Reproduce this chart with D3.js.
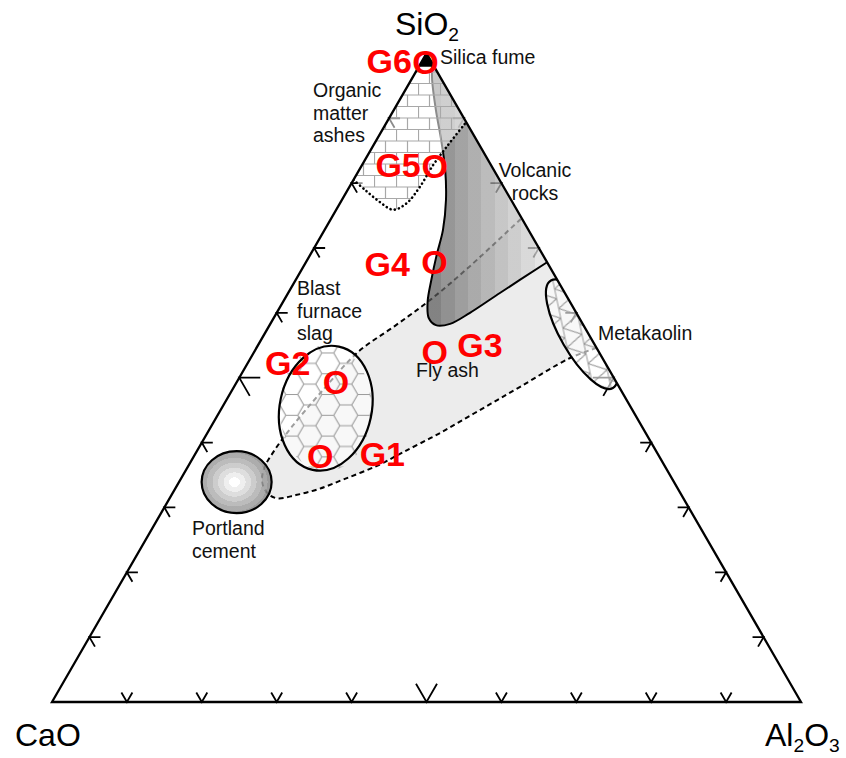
<!DOCTYPE html>
<html>
<head>
<meta charset="utf-8">
<script src="https://cdn.jsdelivr.net/npm/d3@7"></script>
<style>
  body { margin: 0; background: #fff; }
  svg { display: block; }
</style>
</head>
<body>
<svg id="chart" width="846" height="758"></svg>
<script>
// ---- data (wt.% of SiO2, CaO, Al2O3) ----
const tickValues = [10, 20, 30, 40, 50, 60, 70, 80, 90];

const sampleNames = ["G1", "G2", "G3", "G4", "G5", "G6"];
const sampleSiO2  = [38.0, 49.4, 54.0, 67.9, 82.6, 98.7];
const sampleCaO   = [45.2, 37.4, 21.9, 15.0,  7.6,  0.8];
const sampleAl2O3 = [16.8, 13.2, 24.1, 17.1,  9.8,  0.5];

// fly ash field outline: lower boundary (right to left), rounded end, upper boundary
const flyAshOutline = [
  [54.6, 0.0, 45.4], [53.0, 4.4, 42.6], [48.6, 13.2, 38.2], [45.0, 20.4, 34.6],
  [41.5, 27.4, 31.1], [38.5, 33.9, 27.6], [36.5, 38.2, 25.3], [34.4, 43.7, 21.9],
  [32.8, 48.1, 19.1], [31.9, 51.5, 16.6], [31.4, 54.2, 14.4], [32.1, 55.1, 12.8],
  [33.9, 55.0, 11.1], [36.1, 53.6, 10.3], [38.8, 50.9, 10.3], [42.4, 46.8, 10.8],
  [47.6, 40.4, 12.0], [54.0, 32.1, 13.9], [58.0, 25.2, 16.8], [62.0, 18.5, 19.5],
  [67.2, 10.6, 22.2], [74.6, 0.0, 25.4]
];

// volcanic rocks field: inner boundary from near the apex down and back to the Al2O3 side
const volcanicOutline = [
  [98.5, 0.0, 1.5], [95.9, 1.3, 2.8], [91.3, 3.1, 5.6], [86.7, 4.7, 8.6],
  [82.0, 6.5, 11.5], [77.4, 8.7, 13.9], [72.8, 11.4, 15.8], [68.9, 14.2, 16.9],
  [65.1, 16.8, 18.1], [61.7, 19.0, 19.3], [59.2, 20.1, 20.7], [58.1, 19.7, 22.2],
  [58.3, 17.7, 24.0], [60.0, 14.2, 25.8], [63.1, 8.6, 28.3], [67.8, 0.0, 32.2]
];

// organic matter ashes field: lower (dotted) boundary from the CaO side to the Al2O3 side
const organicOutline = [
  [80.5, 19.5, 0.0], [78.9, 18.7, 2.4], [77.1, 17.7, 5.2], [75.9, 16.5, 7.6],
  [76.9, 14.2, 8.9], [79.4, 11.2, 9.4], [82.8, 7.7, 9.5], [85.7, 4.4, 9.9],
  [89.4, 0.0, 10.6]
];

// centres of the oval fields
const portlandCentre   = [33.9, 58.4, 7.7];
const slagCentre       = [45.3, 40.8, 13.9];
const metakaolinCentre = [56.7, 0.9, 42.4];
const silicaFume       = [98.6, 0.7, 0.7];

// ---- ternary projection ----
const xS = d3.scaleLinear().domain([0, 100]).range([52, 801]);
const yS = d3.scaleLinear().domain([0, 100]).range([702, 53.4]);
const project = ([si, ca, al]) => [xS(al + si / 2), yS(si)];

const svg = d3.select("#chart");
const defs = svg.append("defs");
const FONT = "'Liberation Sans', Arial, Helvetica, sans-serif";

const A = project([0, 100, 0]);   // CaO corner
const B = project([0, 0, 100]);   // Al2O3 corner
const C = project([100, 0, 0]);   // SiO2 corner

defs.append("clipPath").attr("id", "tri")
  .append("path").attr("d", `M${A}L${B}L${C}Z`);

// stepped gradients
function steps(grad, colors) {
  colors.forEach((c, i) => {
    grad.append("stop").attr("offset", i / colors.length).attr("stop-color", c);
    grad.append("stop").attr("offset", (i + 1) / colors.length).attr("stop-color", c);
  });
}
const volcGrad = defs.append("linearGradient").attr("id", "volc")
  .attr("gradientUnits", "userSpaceOnUse")
  .attr("x1", 428).attr("x2", 548).attr("y1", 0).attr("y2", 0);
steps(volcGrad, ["#5a5a5a", "#6e6e6e", "#808080", "#919191", "#a2a2a2",
                 "#b2b2b2", "#c2c2c2", "#d2d2d2", "#e2e2e2"]);

const pcGrad = defs.append("radialGradient").attr("id", "pc")
  .attr("cx", 0.47).attr("cy", 0.5).attr("r", 0.55);
steps(pcGrad, ["#ffffff", "#ececec", "#d8d8d8", "#c4c4c4", "#b0b0b0", "#9e9e9e", "#8c8c8c"]);

// hatching patterns
const hex = defs.append("pattern").attr("id", "hex").attr("patternUnits", "userSpaceOnUse")
  .attr("width", 36).attr("height", 20.78).attr("x", 290).attr("y", 350);
hex.append("path")
  .attr("d", "M12,0L24,0L30,10.39L24,20.78L12,20.78L6,10.39ZM0,10.39L6,10.39M30,10.39L36,10.39")
  .attr("fill", "none").attr("stroke", "#9a9a9a").attr("stroke-width", 1.1);

const brick = defs.append("pattern").attr("id", "brick").attr("patternUnits", "userSpaceOnUse")
  .attr("width", 22).attr("height", 23).attr("x", 396).attr("y", 60);
brick.append("path")
  .attr("d", "M0,0.5H22M0,12H22M0.5,0V12M11.5,12V23")
  .attr("fill", "none").attr("stroke", "#a8a8a8").attr("stroke-width", 1.2);

const mesh = defs.append("pattern").attr("id", "mesh").attr("patternUnits", "userSpaceOnUse")
  .attr("width", 20).attr("height", 17.32).attr("patternTransform", "rotate(18)");
mesh.append("path")
  .attr("d", "M0,0H20M0,17.32H20M0,0L10,17.32L20,0")
  .attr("fill", "none").attr("stroke", "#9a9a9a").attr("stroke-width", 1.1);

// ---- edge ticks (drawn first so the shaded fields veil them) ----
const ticks = svg.append("g").attr("stroke", "#000").attr("stroke-width", 1.8).attr("fill", "none");
const r3 = Math.sqrt(3) / 2;
const armPath = (p, d1, d2, L) =>
  `M${p[0] + d1[0] * L},${p[1] + d1[1] * L}L${p[0]},${p[1]}L${p[0] + d2[0] * L},${p[1] + d2[1] * L}`;
tickValues.forEach(v => {
  const L = v === 50 ? 21 : 11;
  ticks.append("path").attr("d", armPath(project([v, 100 - v, 0]), [1, 0], [0.5, r3], L));
  ticks.append("path").attr("d", armPath(project([v, 0, 100 - v]), [-1, 0], [-0.5, r3], L));
  ticks.append("path").attr("d", armPath(project([0, 100 - v, v]), [-0.5, -r3], [0.5, -r3], L));
});

const fields = svg.append("g").attr("clip-path", "url(#tri)");
const smooth = d3.line().curve(d3.curveCatmullRom.alpha(0.5));
const pts = arr => arr.map(project);

// fly ash
const flyPath = smooth(pts(flyAshOutline));
fields.append("path").attr("d", flyPath + "Z").attr("fill", "#000").attr("fill-opacity", 0.075);
fields.append("path").attr("d", flyPath).attr("fill", "none")
  .attr("stroke", "#000").attr("stroke-width", 2).attr("stroke-dasharray", "5,3.5");

// volcanic rocks
const volcPath = smooth(pts(volcanicOutline));
fields.append("path").attr("d", volcPath + "Z").attr("fill", "url(#volc)").attr("fill-opacity", 0.72);
fields.append("path").attr("d", volcPath).attr("fill", "none")
  .attr("stroke", "#000").attr("stroke-width", 2);

// blast furnace slag
const slag = project(slagCentre);
const slagG = fields.append("g").attr("transform", `translate(${slag}) rotate(12)`);
slagG.append("ellipse").attr("rx", 46).attr("ry", 63).attr("fill", "#fff").attr("fill-opacity", 0.62);
slagG.append("ellipse").attr("rx", 46).attr("ry", 63)
  .attr("fill", "url(#hex)").attr("transform", "rotate(-12)");
slagG.append("ellipse").attr("rx", 46).attr("ry", 63).attr("fill", "none")
  .attr("stroke", "#000").attr("stroke-width", 2.2);

// Portland cement
const pc = project(portlandCentre);
fields.append("ellipse").attr("cx", pc[0]).attr("cy", pc[1]).attr("rx", 35).attr("ry", 31)
  .attr("fill", "url(#pc)").attr("fill-opacity", 0.85)
  .attr("stroke", "#000").attr("stroke-width", 2.2);

// metakaolin
const mk = project(metakaolinCentre);
const mkG = fields.append("g").attr("transform", `translate(${mk}) rotate(60)`);
mkG.append("ellipse").attr("rx", 62).attr("ry", 21).attr("fill", "#fff").attr("fill-opacity", 0.62);
mkG.append("ellipse").attr("rx", 62).attr("ry", 21).attr("fill", "url(#mesh)");
mkG.append("ellipse").attr("rx", 62).attr("ry", 21).attr("fill", "none")
  .attr("stroke", "#000").attr("stroke-width", 2.2);

// organic matter ashes
const orgPath = smooth(pts(organicOutline));
fields.append("path").attr("d", orgPath + `L${C}Z`).attr("fill", "#fff").attr("fill-opacity", 0.55);
fields.append("path").attr("d", orgPath + `L${C}Z`).attr("fill", "url(#brick)");
fields.append("path").attr("d", orgPath).attr("fill", "none")
  .attr("stroke", "#000").attr("stroke-width", 2.6)
  .attr("stroke-linecap", "round").attr("stroke-dasharray", "0.1,4.2");

// triangle frame
svg.append("path").attr("d", `M${A}L${B}L${C}Z`)
  .attr("fill", "none").attr("stroke", "#000").attr("stroke-width", 2.3)
  .attr("stroke-linejoin", "miter");

// silica fume marker
svg.append("path").attr("transform", `translate(${project(silicaFume)})`)
  .attr("d", d3.symbol(d3.symbolTriangle, 90)()).attr("fill", "#000");

// ---- corner labels ----
function formula(x, y, parts, size, anchor) {
  const t = svg.append("text").attr("x", x).attr("y", y)
    .attr("font-family", FONT).attr("font-size", size).attr("text-anchor", anchor || "start");
  let low = false;
  parts.forEach(p => {
    const isSub = /^\d+$/.test(p);
    const span = t.append("tspan").text(p);
    if (isSub) { span.attr("font-size", size * 0.6).attr("dy", low ? 0 : 6); low = true; }
    else { if (low) span.attr("dy", -6); low = false; }
  });
}
formula(395, 35, ["SiO", "2"], 32);
formula(15, 746, ["CaO"], 32);
formula(765, 746, ["Al", "2", "O", "3"], 32);

// ---- field labels ----
const fieldLabels = [
  { lines: ["Silica fume"], x: 440, y: 64, anchor: "start" },
  { lines: ["Organic", "matter", "ashes"], x: 313, y: 97, anchor: "start" },
  { lines: ["Volcanic", "rocks"], x: 535, y: 177, anchor: "middle" },
  { lines: ["Blast", "furnace", "slag"], x: 297, y: 295, anchor: "start" },
  { lines: ["Fly ash"], x: 416, y: 377, anchor: "start" },
  { lines: ["Metakaolin"], x: 598, y: 340, anchor: "start" },
  { lines: ["Portland", "cement"], x: 192, y: 535, anchor: "start" }
];
fieldLabels.forEach(f => {
  const t = svg.append("text").attr("font-family", FONT).attr("font-size", 19.5)
    .attr("text-anchor", f.anchor).attr("fill", "#111");
  f.lines.forEach((l, i) => t.append("tspan").attr("x", f.x).attr("y", f.y + i * 22.5).text(l));
});

// ---- sample points ----
const labelOffset = {
  G1: { dx: 39.5, dy: -2, anchor: "start" },
  G2: { dx: -25.5, dy: -19, anchor: "end" },
  G3: { dx: 22.5, dy: -6.5, anchor: "start" },
  G4: { dx: -24.5, dy: 2, anchor: "end" },
  G5: { dx: -14, dy: -1, anchor: "end" },
  G6: { dx: -13.5, dy: -1, anchor: "end" }
};
const RED_SIZE = 34;
const capShift = RED_SIZE * 0.358;
const samples = sampleNames.map((n, i) => ({
  name: n, p: project([sampleSiO2[i], sampleCaO[i], sampleAl2O3[i]])
}));
const sg = svg.append("g").attr("font-family", FONT).attr("font-weight", "bold")
  .attr("font-size", RED_SIZE).attr("fill", "#ff0000");
samples.forEach(s => {
  sg.append("text").attr("x", s.p[0]).attr("y", s.p[1] + capShift)
    .attr("text-anchor", "middle").text("O");
  const o = labelOffset[s.name];
  sg.append("text").attr("x", s.p[0] + o.dx).attr("y", s.p[1] + o.dy + capShift)
    .attr("text-anchor", o.anchor).text(s.name);
});
</script>
</body>
</html>
